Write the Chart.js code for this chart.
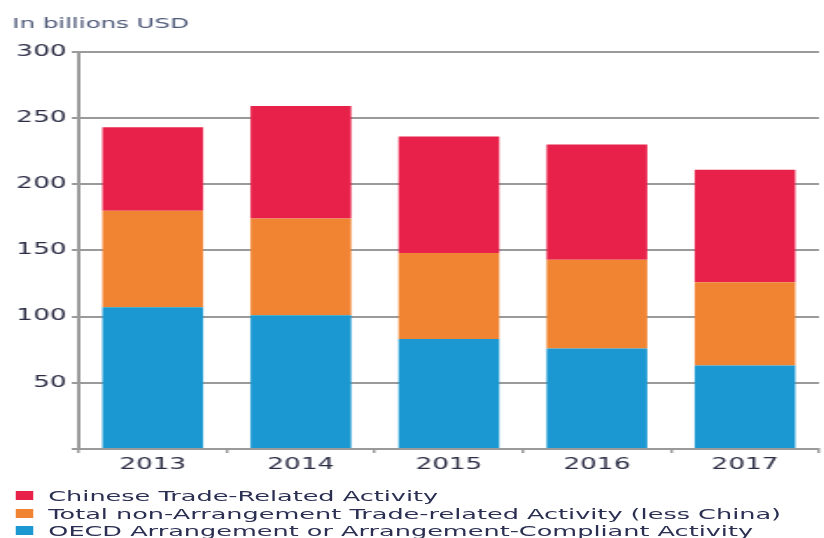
<!DOCTYPE html>
<html>
<head>
<meta charset="utf-8">
<script src="https://cdn.jsdelivr.net/npm/chart.js@4.4.1/dist/chart.umd.min.js"></script>
<style>
  html, body { margin: 0; padding: 0; background: #fff; overflow: hidden; }
  /* the original picture is stretched sideways, so draw narrow and widen */
  #wrap { position: absolute; left: 0; top: 0; width: 471px; height: 538px;
          transform: scaleX(1.75); transform-origin: 0 0; }
  #trashChart { position: absolute; left: 0; top: 0; }
  #legend { position: absolute; left: 0; top: 487px; font-family: "DejaVu Sans", sans-serif;
            font-size: 14.6px; line-height: 17.5px; color: #2b2f52; white-space: nowrap; }
  #legend .row { display: flex; align-items: center; height: 17.5px; }
  #legend .box { display: inline-block; width: 10px; height: 9px; margin-left: 8.6px; margin-right: 9px; }
</style>
</head>
<body>
<div id="wrap">
  <canvas id="trashChart" width="471" height="480"></canvas>
  <div id="legend"></div>
</div>
<script>
const years = ['2013', '2014', '2015', '2016', '2017'];
const oecd = [107, 101, 83, 76, 63];
const nonArrangement = [73, 73, 65, 67, 63];
const chinese = [63, 85, 88, 87, 85];
const yTicks = [0, 50, 100, 150, 200, 250, 300];

const ctx = document.getElementById('trashChart').getContext('2d');
const tickColor = '#2b2d45';
const gridColor = '#9a9a9a';

const data = {
  labels: years,
  datasets: [
    {
      label: 'OECD Arrangement or Arrangement-Compliant Activity',
      data: oecd,
      backgroundColor: '#1b98d1'
    },
    {
      label: 'Total non-Arrangement Trade-related Activity (less China)',
      data: nonArrangement,
      backgroundColor: '#f08433'
    },
    {
      label: 'Chinese Trade-Related Activity',
      data: chinese,
      backgroundColor: '#e8214a'
    }
  ]
};

const config = {
  type: 'bar',
  data: data,
  options: {
    responsive: false,
    animation: false,
    devicePixelRatio: 1,
    categoryPercentage: 1,
    barPercentage: 0.68,
    layout: { padding: { left: 7, right: 3, top: 0, bottom: 3 } },
    plugins: {
      legend: { display: false },
      tooltip: { enabled: false },
      title: {
        display: true,
        text: 'In billions USD',
        align: 'start',
        color: '#4d5878',
        font: { family: 'DejaVu Sans', size: 14, weight: 'normal' },
        padding: { top: 16, bottom: 19 }
      }
    },
    scales: {
      x: {
        stacked: true,
        grid: { display: true, drawOnChartArea: false, drawTicks: true, tickLength: 4, offset: true,
                color: gridColor, lineWidth: 1.5 },
        border: { display: true, color: gridColor, width: 2 },
        ticks: { color: tickColor, padding: 3, font: { family: 'DejaVu Sans', size: 15 } }
      },
      y: {
        stacked: true,
        min: 0,
        max: 300,
        afterBuildTicks: (scale) => { scale.ticks = yTicks.map(v => ({ value: v })); },
        afterFit: (scale) => { scale.width = 38; },
        grid: { color: gridColor, lineWidth: 2, tickLength: 4 },
        border: { display: true, color: gridColor, width: 2 },
        ticks: {
          color: tickColor,
          padding: 3,
          font: { family: 'DejaVu Sans', size: 15 },
          callback: (v) => v === 0 ? '' : v
        }
      }
    }
  }
};

const chart = new Chart(ctx, config);

// legend below the chart, newest series on top like the original
const legend = document.getElementById('legend');
data.datasets.slice().reverse().forEach(ds => {
  const row = document.createElement('div');
  row.className = 'row';
  const box = document.createElement('span');
  box.className = 'box';
  box.style.background = ds.backgroundColor;
  const txt = document.createElement('span');
  txt.textContent = ds.label;
  row.appendChild(box);
  row.appendChild(txt);
  legend.appendChild(row);
});
</script>
</body>
</html>
